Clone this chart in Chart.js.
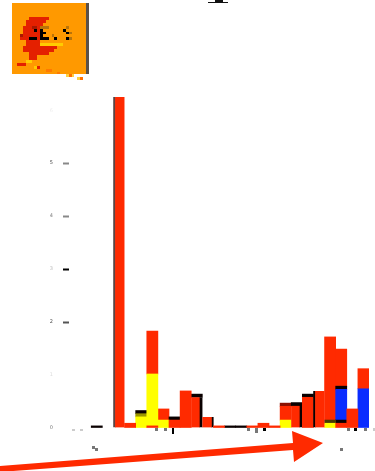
<!DOCTYPE html>
<html>
<head>
<meta charset="utf-8">
<style>
	html, body { margin: 0; padding: 0; background: #fff; }
	#wrap { position: relative; width: 375px; height: 471px; overflow: hidden; }
	canvas { position: absolute; left: 0; top: 0; }
	svg { position: absolute; left: 0; top: 0; }
</style>
<script src="https://cdn.jsdelivr.net/npm/chart.js@4/dist/chart.umd.min.js"></script>
</head>
<body>
<div id="wrap">
	<canvas id="chart" width="375" height="471"></canvas>
	<svg width="375" height="471" shape-rendering="crispEdges">
		<!-- cut off title -->
		<path d="M215 0H223V2H228V3H208V2H215Z" fill="#111"/>
		<!-- logo -->
		<rect x="12" y="3" width="74" height="71" fill="#ff9900"/>
		<rect x="86" y="3" width="3" height="71" fill="#5a5048"/>
		<path d="M29 17H49V20H46V23H43V26H40V43H40V46H57V49H54V52H49V55H37V60H29V52H23V46H26V40H20V34H23V26H26V20H29Z" fill="#e42000"/>
		<path d="M40 43H63V46H40Z" fill="#ffcc00"/>
		<path d="M40 29H43V32H46V34H43V37H49V40H40ZM29 37H37V40H29ZM54 37H57V40H54ZM66 37H69V40H66ZM66 32H69V34H66ZM63 29H66V32H63ZM34 29H37V32H34Z" fill="#000"/>
		<path d="M40 26H49V29H40ZM66 26H69V29H66ZM52 34H54V37H52ZM69 32H72V34H69ZM69 37H72V40H69Z" fill="#b8730a"/>
		<path d="M32 26H37V29H32ZM20 34H23V37H20Z" fill="#a81800"/>
		<path d="M17 63H26V66H17ZM37 66H40V69H37Z" fill="#e42000"/>
		<path d="M46 69H52V72H46ZM57 72H60V74H57Z" fill="#ff7a00"/>
		<path d="M26 60H32V63H26ZM34 66H37V69H34Z" fill="#ffcc00"/>
		<path d="M66 74H69V77H66ZM72 74H74V77H72ZM77 77H80V80H77Z" fill="#ffd040"/>
		<path d="M69 74H72V77H69ZM80 77H83V80H80Z" fill="#ff7000"/>
		<!-- stray tick fragments -->
		<path d="M72 429H75V431H72ZM80 429H83V431H80Z" fill="#ccc"/>
		<path d="M155 428H158V431H155ZM164 428H167V431H164ZM247 428H250V431H247ZM255 428H258V433H255ZM347 428H350V431H347ZM364 428H367V431H364ZM92 446H95V449H92ZM95 448H98V451H95ZM340 448H343V451H340Z" fill="#777"/>
		<path d="M172 428H174V434H172ZM263 428H266V431H263ZM354 428H357V431H354Z" fill="#000"/>
		<path d="M373 428H375V431H373Z" fill="#ccc"/>
		<!-- arrow -->
		<path d="M0 466L293 443L292 431L323 443L294 462L293 450L0 472Z" fill="#ff2a00" shape-rendering="auto"/>
	</svg>
</div>
<script>
const LABELS = ['a','b','c','d','e','f','g','h','i','j','k','l','m','n','o','p','q','r','s','t','u','v','w','x','y','z','aa'];
const Y_TICKS = ['0','1','2','3','4','5','6'];
const RED_BASE =  [0,0,0,0,6.25,.09,0,.04,0,.15,.70,.58,.21,.04,0,0,.04,.09,.04,0,.42,.58,.70,0,.09,.36,0];
const YELLOW =    [0,0,0,0,0,0,.21,.98,.15,0,0,0,0,0,0,0,0,0,0,.15,0,0,0,.09,0,0,0];
const OLIVE =     [0,0,0,0,0,0,.06,0,0,0,0,0,0,0,0,0,0,0,0,0,0,0,0,.06,0,0,0];
const BLACK_LOW = [0,0,.04,0,0,0,.06,0,0,.06,0,.06,0,0,.04,.04,0,0,0,0,.06,.06,0,0,.06,0,0];
const BLUE =      [0,0,0,0,0,0,0,0,0,0,0,0,0,0,0,0,0,0,0,0,0,0,0,0,.58,0,.74];
const BLACK_UP =  [0,0,0,0,0,0,0,0,0,0,0,0,0,0,0,0,0,0,0,0,0,0,0,0,.06,0,0];
const RED_TOP =   [0,0,0,0,0,0,0,.81,.21,0,0,0,0,0,0,0,0,0,0,.26,0,0,0,1.57,.70,0,.38];
const DARK_CAP =  [0,0,0,0,0,0,0,0,0,0,0,0,0,0,0,0,0,0,0,.06,0,0,0,0,0,0,0];

// by tick, bottom to top: most of these marks have nearly faded out in the reference
const TICK_COLORS = ['transparent', 'transparent', '#555', '#000', '#888', '#888', 'transparent'];
const LABEL_COLORS = ['#777', '#ddd', '#555', '#bbb', '#777', '#444', '#eee'];

// empty segments stay null so they do not leave a hairline on the stack
const layer = (values, color) => ({ data: values.map(v => v || null), backgroundColor: color, borderWidth: 0 });

const redBase = layer(RED_BASE, '#ff2a00');
redBase.borderColor = ctx => ctx.dataIndex === 4 ? '#5a4444' : '#0a0000';
redBase.borderSkipped = false;
redBase.borderWidth = ctx => {
	if (ctx.dataIndex === 4) return { left: 2, right: 0, top: 0, bottom: 0 };
	if (ctx.dataIndex === 11 || ctx.dataIndex === 20) return { left: 0, right: 3, top: 0, bottom: 0 };
	if (ctx.dataIndex === 12) return { left: 0, right: 2, top: 0, bottom: 0 };
	if (ctx.dataIndex === 22) return { left: 2, right: 0, top: 0, bottom: 0 };
	return 0;
};

new Chart(document.getElementById('chart').getContext('2d'), {
	type: 'bar',
	data: {
		labels: LABELS,
		datasets: [
			redBase,
			layer(YELLOW, '#ffff00'),
			layer(OLIVE, ctx => ctx.dataIndex === 23 ? '#4a3a00' : '#9c9600'),
			layer(BLACK_LOW, '#0a0000'),
			layer(BLUE, '#0a2cff'),
			layer(BLACK_UP, '#0a0000'),
			layer(RED_TOP, '#ff2a00'),
			layer(DARK_CAP, '#8b1000')
		]
	},
	options: {
		responsive: false,
		animation: false,
		datasets: { bar: { barPercentage: 1, categoryPercentage: 1 } },
		layout: { padding: { top: 97, right: 6 } },
		plugins: { legend: { display: false }, tooltip: { enabled: false } },
		scales: {
			x: {
				stacked: true,
				grid: { display: false },
				border: { display: false },
				ticks: { display: false },
				afterFit: scale => { scale.height = 43; }
			},
			y: {
				stacked: true,
				min: 0,
				max: 6.25,
				grid: {
					drawOnChartArea: false,
					tickLength: 6,
					tickWidth: 2,
					tickColor: ctx => TICK_COLORS[ctx.index]
				},
				border: { display: false },
				ticks: {
					stepSize: 1,
					includeBounds: false,
					padding: 10,
					color: ctx => LABEL_COLORS[ctx.index],
					font: { family: 'DejaVu Sans', size: 5 },
					callback: (value, i) => Y_TICKS[i]
				},
				afterFit: scale => { scale.width = 69; }
			}
		}
	}
});
</script>
</body>
</html>
